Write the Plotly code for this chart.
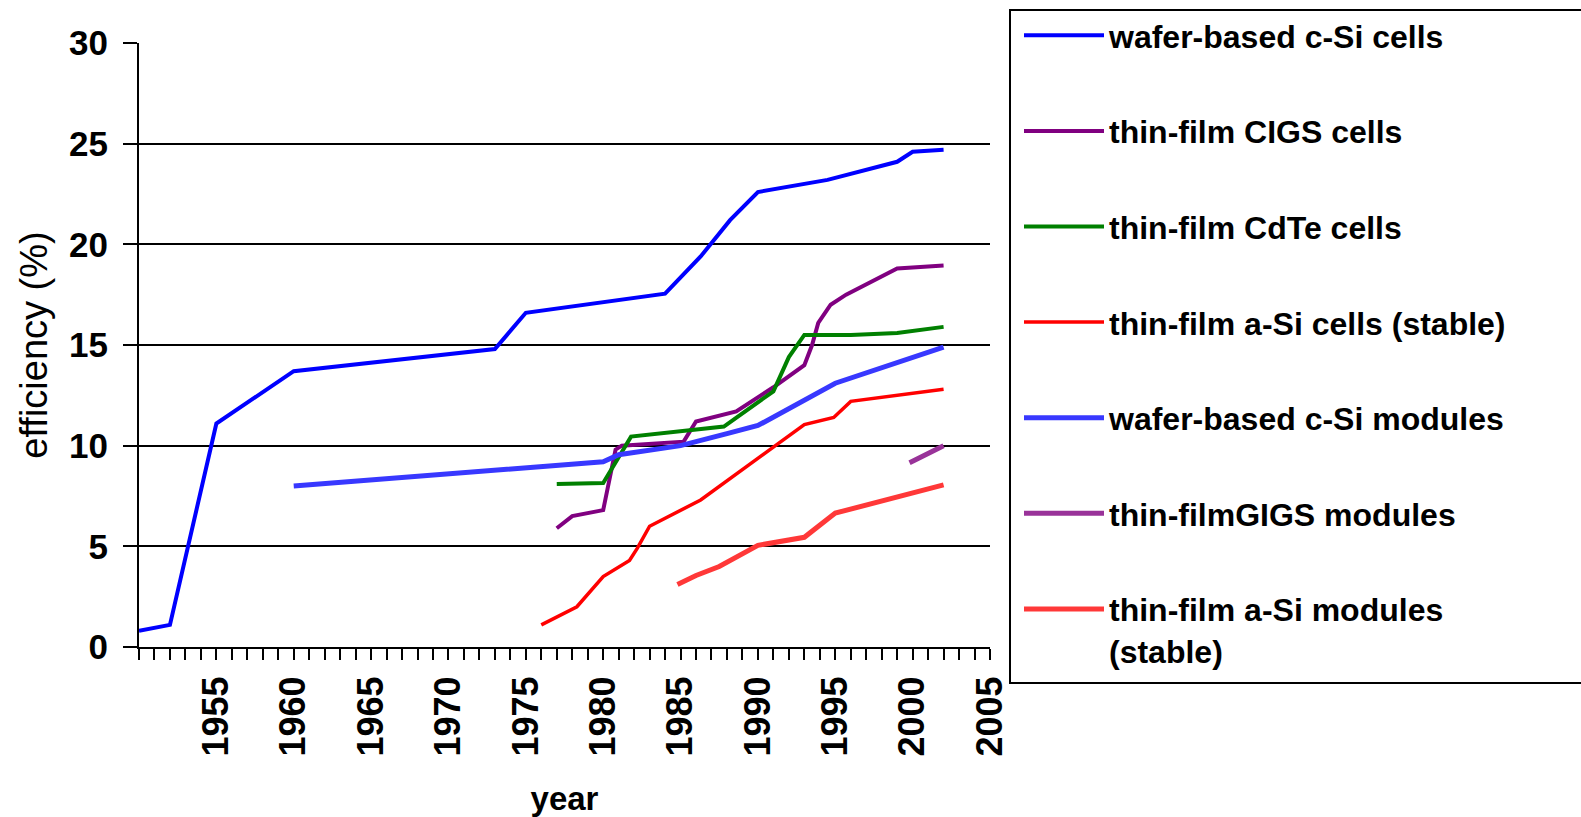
import plotly.graph_objects as go

# ---- data ----
series_names = [
    "wafer-based c-Si cells",
    "thin-film CIGS cells",
    "thin-film CdTe cells",
    "thin-film a-Si cells (stable)",
    "wafer-based c-Si modules",
    "thin-filmGIGS modules",
    "thin-film a-Si modules<br>(stable)",
]

wafer_cells_x = [1950, 1952, 1955, 1960, 1973, 1975, 1984, 1986.3, 1988.2, 1990, 1994.5, 1999, 2000, 2002]
wafer_cells_y = [0.8, 1.1, 11.1, 13.7, 14.8, 16.6, 17.55, 19.4, 21.2, 22.6, 23.2, 24.1, 24.6, 24.7]

cigs_cells_x = [1977, 1978, 1980, 1980.8, 1981.2, 1985.2, 1986, 1988.6, 1991, 1993, 1993.5, 1993.9, 1994.7, 1995.7, 1999, 2002]
cigs_cells_y = [5.9, 6.5, 6.8, 9.8, 10.0, 10.2, 11.2, 11.7, 12.9, 14.0, 15.0, 16.1, 17.0, 17.5, 18.8, 18.95]

cdte_cells_x = [1977, 1980, 1981.8, 1987.8, 1991, 1992, 1993, 1996, 1999, 2002]
cdte_cells_y = [8.1, 8.15, 10.45, 10.95, 12.7, 14.4, 15.5, 15.5, 15.6, 15.9]

asi_cells_x = [1976, 1978.3, 1980, 1981.7, 1982.2, 1983, 1986.3, 1993, 1994.9, 1996, 2002]
asi_cells_y = [1.1, 2.0, 3.5, 4.3, 4.9, 6.0, 7.3, 11.05, 11.4, 12.2, 12.8]

wafer_mod_x = [1960, 1980, 1981, 1985, 1988, 1990, 1995, 2002]
wafer_mod_y = [8.0, 9.2, 9.55, 10.0, 10.6, 11.0, 13.1, 14.9]

cigs_mod_x = [1999.8, 2002]
cigs_mod_y = [9.15, 10.0]

asi_mod_x = [1984.8, 1986, 1987.5, 1990, 1993, 1995, 2002]
asi_mod_y = [3.1, 3.55, 4.0, 5.05, 5.45, 6.65, 8.05]

year_ticks = [1955, 1960, 1965, 1970, 1975, 1980, 1985, 1990, 1995, 2000, 2005]
eff_ticks = [0, 5, 10, 15, 20, 25, 30]

# ---- styling ----
xs = [wafer_cells_x, cigs_cells_x, cdte_cells_x, asi_cells_x, wafer_mod_x, cigs_mod_x, asi_mod_x]
ys = [wafer_cells_y, cigs_cells_y, cdte_cells_y, asi_cells_y, wafer_mod_y, cigs_mod_y, asi_mod_y]
colors = ["#0000FF", "#800080", "#008000", "#FF0000", "#3838FF", "#993399", "#FF3838"]
widths = [4, 4, 4, 3.5, 5, 5, 5]

FONT = "Liberation Sans, Arial, sans-serif"

fig = go.Figure()
for i in range(len(series_names)):
    fig.add_trace(go.Scatter(
        x=xs[i], y=ys[i], mode="lines", name=series_names[i],
        legendgroup=f"g{i}",
        line=dict(color=colors[i], width=widths[i]),
    ))

W, H = 1581, 817
L, R, T, B = 139, 591, 43, 170

fig.update_layout(
    width=W, height=H,
    margin=dict(l=L, r=R, t=T, b=B, pad=0),
    paper_bgcolor="white", plot_bgcolor="white",
    font=dict(family=FONT, color="black", size=32),
    showlegend=True,
    legend=dict(
        xref="container", yref="container",
        x=1019 / W, y=1 - 8 / H, xanchor="left", yanchor="top",
        traceorder="grouped", tracegroupgap=51,
        font=dict(family=FONT, size=32, weight="bold", color="black"),
        bgcolor="rgba(0,0,0,0)", borderwidth=0,
        itemwidth=80, valign="top", maxheight=810,
    ),
    xaxis=dict(
        range=[1950, 2005], automargin=False,
        tickmode="array", tickvals=year_ticks, ticktext=[str(v) for v in year_ticks],
        tickangle=-90,
        ticks="outside", ticklen=11, tickwidth=2, tickcolor="black",
        minor=dict(dtick=1, tick0=1950, ticks="outside", ticklen=11, tickwidth=2,
                   tickcolor="black", showgrid=False),
        showline=True, linecolor="black", linewidth=2,
        showgrid=False, zeroline=False,
        tickfont=dict(family=FONT, size=36, weight="bold", color="black"),
        ticklabelstandoff=2,
        title=dict(text="year", font=dict(family=FONT, size=33, weight="bold"), standoff=33),
    ),
    yaxis=dict(
        range=[0, 30], automargin=False,
        tickmode="array", tickvals=eff_ticks,
        ticks="outside", ticklen=14, tickwidth=2, tickcolor="black",
        showline=True, linecolor="black", linewidth=2,
        showgrid=True, gridcolor="black", gridwidth=2,
        zeroline=False,
        tickfont=dict(family=FONT, size=35, weight="bold", color="black"),
        ticklabelstandoff=8,
        title=dict(text="efficiency (%)", font=dict(family=FONT, size=38), standoff=10),
    ),
)

# legend frame (extends past the right edge, as in the reference)
pw = W - L - R
ph = H - T - B
fig.add_shape(
    type="rect", xref="paper", yref="paper",
    x0=(1010 - L) / pw, x1=(1600 - L) / pw,
    y0=(H - B - 683) / ph, y1=(H - B - 10) / ph,
    line=dict(color="black", width=2), fillcolor="rgba(0,0,0,0)", layer="above",
)

fig.write_html(
    "out.html",
    config={"displayModeBar": False},
    post_script="document.body.style.margin='0';document.body.style.overflow='hidden';",
)
